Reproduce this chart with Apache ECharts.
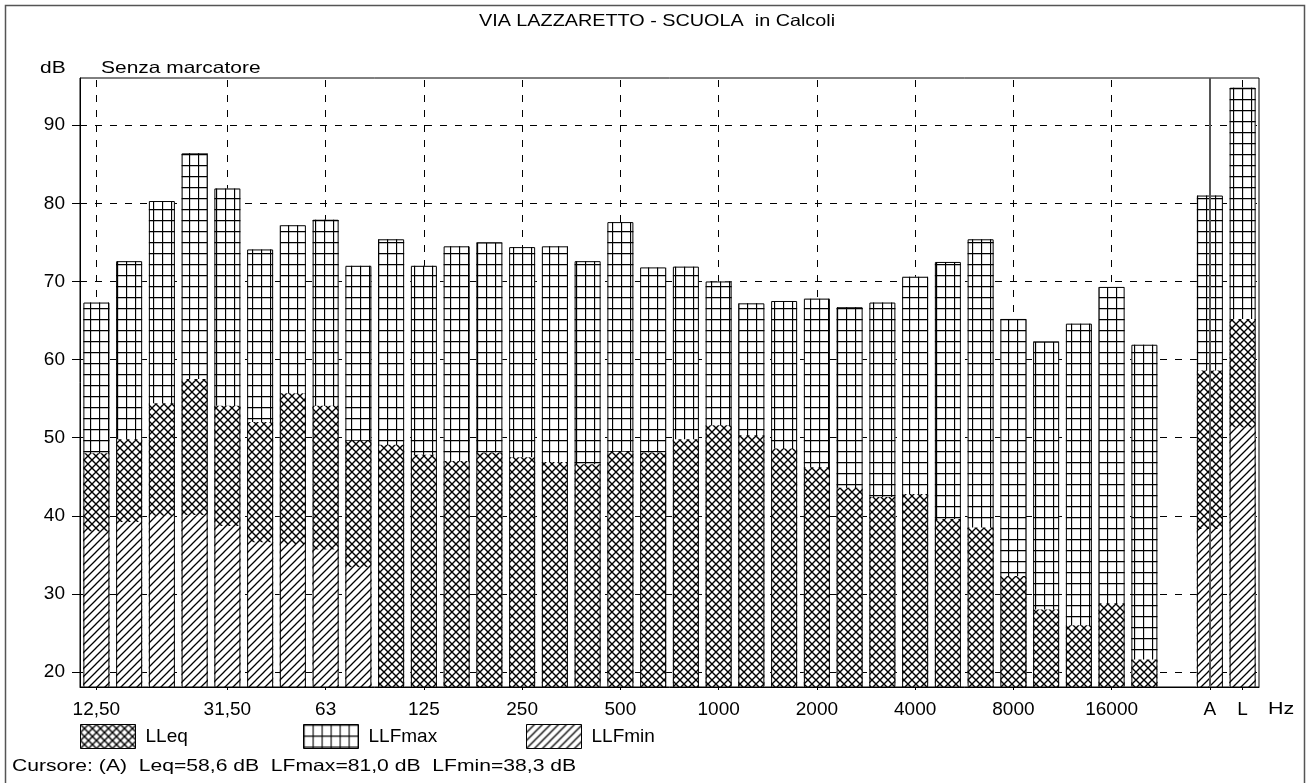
<!DOCTYPE html>
<html>
<head>
<meta charset="utf-8">
<title>VIA LAZZARETTO - SCUOLA in Calcoli</title>
<script src="https://cdn.jsdelivr.net/npm/echarts@6/dist/echarts.min.js"></script>
<style>
html, body { margin: 0; padding: 0; background: #fff; }
#main { width: 1312px; height: 783px; }
</style>
</head>
<body>
<div id="main"></div>
<script>
// bande di terzi d'ottava, uno slot vuoto, poi A e L
const bands = ["12,50", "16", "20", "25", "31,50", "40", "50", "63", "80", "100", "125", "160", "200", "250", "315", "400", "500", "630", "800", "1000", "1250", "1600", "2000", "2500", "3150", "4000", "5000", "6300", "8000", "10000", "12500", "16000", "20000", "", "A", "L"];
const shownLabels = ["12,50", "31,50", "63", "125", "250", "500", "1000", "2000", "4000", "8000", "16000", "A", "L"];
const yTicks = [20, 30, 40, 50, 60, 70, 80, 90];

const llfmax = [67.3, 72.6, 80.3, 86.4, 81.9, 74.1, 77.2, 77.9, 72.0, 75.4, 72.0, 74.5, 75.0, 74.4, 74.5, 72.6, 77.6, 71.8, 71.9, 70.0, 67.2, 67.5, 67.8, 66.7, 67.3, 70.6, 72.5, 75.4, 65.2, 62.3, 64.6, 69.3, 61.9, null, 81.0, 94.8];
const lleq = [48.0, 49.8, 54.4, 57.5, 54.1, 52.0, 55.7, 54.1, 49.6, 49.1, 47.8, 47.0, 48.1, 47.5, 46.9, 46.6, 48.2, 48.1, 49.8, 51.6, 50.3, 48.6, 46.2, 43.6, 42.4, 42.8, 39.6, 38.5, 32.3, 28.0, 26.0, 28.8, 21.6, null, 58.6, 65.2];
// LLFmin sotto il fondo scala (non visibile) -> null
const llfmin = [38.0, 39.2, 40.0, 40.1, 38.7, 36.6, 36.4, 35.7, 33.4, null, null, null, null, null, null, null, null, null, null, null, null, null, null, null, null, null, null, null, null, null, null, null, null, null, 38.3, 51.3];

const titleText = "VIA LAZZARETTO - SCUOLA  in Calcoli";
const cursorText = "Cursore: (A)  Leq=58,6 dB  LFmax=81,0 dB  LFmin=38,3 dB";
const FONT = "'Liberation Sans', Arial, sans-serif";
const TXT = "16.5px " + FONT;

// retini in bianco e nero
function makePattern(kind) {
  const c = document.createElement("canvas");
  const ctx = c.getContext("2d");
  ctx.strokeStyle = "#000";
  if (kind === "grid") {
    c.width = 9; c.height = 11;
    ctx.fillStyle = "#fff"; ctx.fillRect(0, 0, 9, 11);
    ctx.lineWidth = 1.3;
    ctx.beginPath();
    ctx.moveTo(0.5, 0); ctx.lineTo(0.5, 11);
    ctx.moveTo(0, 0.5); ctx.lineTo(9, 0.5);
    ctx.stroke();
  } else if (kind === "cross") {
    c.width = 8; c.height = 8;
    ctx.fillStyle = "#fff"; ctx.fillRect(0, 0, 8, 8);
    ctx.lineWidth = 1.4;
    ctx.beginPath();
    ctx.moveTo(-1, -1); ctx.lineTo(9, 9);
    ctx.moveTo(9, -1); ctx.lineTo(-1, 9);
    ctx.stroke();
  } else {
    c.width = 8; c.height = 8;
    ctx.fillStyle = "#fff"; ctx.fillRect(0, 0, 8, 8);
    ctx.lineWidth = 1.3;
    ctx.beginPath();
    ctx.moveTo(-1, 9); ctx.lineTo(9, -1);
    ctx.moveTo(-1, 1); ctx.lineTo(1, -1);
    ctx.moveTo(7, 9); ctx.lineTo(9, 7);
    ctx.stroke();
  }
  return { image: c, repeat: "repeat" };
}

const gridPat = makePattern("grid");
const crossPat = makePattern("cross");
const diagPat = makePattern("diag");

const chart = echarts.init(document.getElementById("main"));

function legendAt(name, left) {
  return {
    data: [{ name: name, icon: "rect", itemStyle: { borderColor: "#000", borderWidth: 1 } }],
    left: left,
    top: 719,
    itemWidth: 55,
    itemHeight: 24,
    selectedMode: false,
    textStyle: { fontSize: 19, color: "#000", fontFamily: FONT, padding: [0, 0, 0, 5] }
  };
}

// testo allargato come nell'originale
function label(text, x, y, sx, align) {
  return {
    type: "text", x: x, y: y, scaleX: sx, silent: true,
    style: { text: text, x: 0, y: 0, font: TXT, fill: "#000", align: align || "left", verticalAlign: "middle" }
  };
}

const option = {
  animation: false,
  textStyle: { fontFamily: FONT },
  legend: [legendAt("LLeq", 75), legendAt("LLFmax", 298), legendAt("LLFmin", 521)],
  grid: {
    left: 80, top: 78, width: 1179, height: 609,
    show: true, borderColor: "#000", borderWidth: 1, backgroundColor: "#fff"
  },
  xAxis: {
    type: "category",
    data: bands,
    boundaryGap: true,
    axisLine: { lineStyle: { color: "#000", width: 1 } },
    axisTick: {
      show: true, alignWithLabel: true, length: 3,
      interval: (i, v) => shownLabels.includes(v),
      lineStyle: { color: "#000" }
    },
    axisLabel: {
      interval: (i, v) => shownLabels.includes(v),
      margin: 13, fontSize: 19, color: "#000", fontFamily: FONT
    },
    splitLine: { show: false }
  },
  yAxis: {
    type: "value",
    min: 18.08,
    max: 96.05,
    splitNumber: 8,
    axisLine: { show: true, lineStyle: { color: "#000", width: 1 } },
    axisTick: { show: true, length: 8, customValues: yTicks, lineStyle: { color: "#000" } },
    axisLabel: { customValues: yTicks, margin: 15, fontSize: 19, color: "#000", fontFamily: FONT },
    splitLine: { lineStyle: { color: "#000", width: 1, type: [7, 8] } }
  },
  graphic: [
    { type: "rect", shape: { x: 5.5, y: 5.5, width: 1299, height: 800 }, style: { fill: "none", stroke: "#555", lineWidth: 1.5 }, silent: true },
    label(titleText, 657, 21, 1.2, "center"),
    label("dB", 40, 68, 1.27),
    label("Senza marcatore", 101, 68, 1.27),
    label("Hz", 1268, 709, 1.3),
    label(cursorText, 12, 766, 1.28)
  ],
  series: [
    {
      name: "LLFmax",
      type: "bar",
      data: llfmax,
      barWidth: 26,
      barGap: "-100%",
      itemStyle: { color: gridPat, borderWidth: 0 },
      markLine: {
        z: 1,
        silent: true,
        symbol: "none",
        label: { show: false },
        lineStyle: { color: "#000", width: 1, type: [7, 8] },
        data: shownLabels.map(l => ({ xAxis: l }))
      }
    },
    {
      name: "LLeq",
      type: "bar",
      data: lleq,
      barWidth: 26,
      barGap: "-100%",
      itemStyle: { color: crossPat, borderWidth: 0 }
    },
    {
      name: "LLFmin",
      type: "bar",
      data: llfmin,
      barWidth: 26,
      barGap: "-100%",
      itemStyle: { color: diagPat, borderWidth: 0 }
    },
    {
      // contorno delle barre
      name: "contorno",
      type: "bar",
      data: llfmax,
      barWidth: 26,
      barGap: "-100%",
      silent: true,
      itemStyle: { color: "rgba(0,0,0,0)", borderColor: "#000", borderWidth: 1 },
      markLine: {
        z: 10,
        silent: true,
        symbol: "none",
        label: { show: false },
        lineStyle: { color: "#555", width: 2, type: "solid" },
        data: [{ xAxis: "A" }]
      }
    }
  ]
};

chart.setOption(option);
</script>
</body>
</html>
